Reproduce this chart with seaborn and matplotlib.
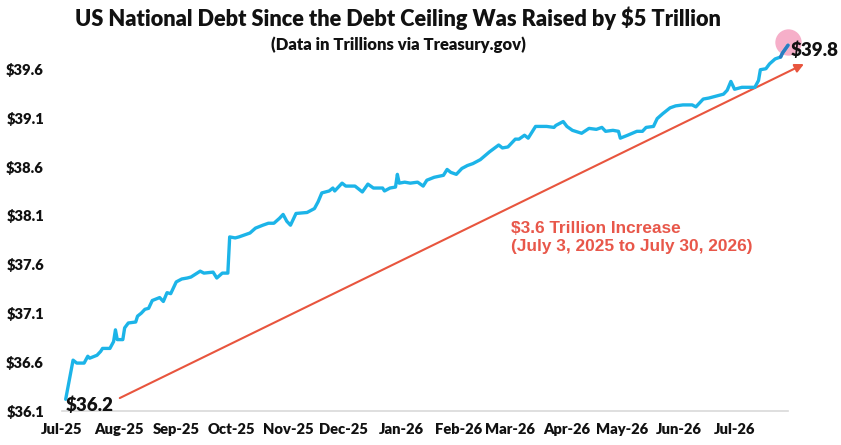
import pandas as pd
import matplotlib
matplotlib.use("Agg")
import matplotlib.pyplot as plt
import matplotlib.dates as mdates
from matplotlib.ticker import FuncFormatter
import seaborn as sns

# debt readings (trillions)
dates = ['2025-07-03', '2025-07-07', '2025-07-09', '2025-07-13', '2025-07-15', '2025-07-16',
         '2025-07-20', '2025-07-22', '2025-07-23', '2025-07-27', '2025-07-29', '2025-07-30',
         '2025-07-31', '2025-08-03', '2025-08-04', '2025-08-06', '2025-08-10', '2025-08-11',
         '2025-08-13', '2025-08-15', '2025-08-17', '2025-08-19', '2025-08-23', '2025-08-25',
         '2025-08-27', '2025-08-29', '2025-09-01', '2025-09-04', '2025-09-07', '2025-09-09',
         '2025-09-14', '2025-09-16', '2025-09-21', '2025-09-23', '2025-09-26', '2025-09-29',
         '2025-09-30', '2025-10-03', '2025-10-05', '2025-10-08', '2025-10-11', '2025-10-14',
         '2025-10-18', '2025-10-21', '2025-10-24', '2025-10-27', '2025-10-29', '2025-10-31',
         '2025-11-02', '2025-11-05', '2025-11-11', '2025-11-15', '2025-11-17', '2025-11-19',
         '2025-11-23', '2025-11-25', '2025-11-26', '2025-11-30', '2025-12-02', '2025-12-07',
         '2025-12-11', '2025-12-14', '2025-12-17', '2025-12-22', '2025-12-23', '2025-12-26',
         '2025-12-29', '2025-12-30', '2025-12-31', '2026-01-03', '2026-01-06', '2026-01-10',
         '2026-01-13', '2026-01-15', '2026-01-19', '2026-01-24', '2026-01-26', '2026-01-28',
         '2026-01-31', '2026-02-03', '2026-02-06', '2026-02-09', '2026-02-13', '2026-02-18',
         '2026-02-23', '2026-02-25', '2026-02-28', '2026-03-04', '2026-03-06', '2026-03-09',
         '2026-03-11', '2026-03-15', '2026-03-21', '2026-03-25', '2026-03-26', '2026-03-30',
         '2026-04-01', '2026-04-04', '2026-04-09', '2026-04-13', '2026-04-17', '2026-04-20',
         '2026-04-22', '2026-04-26', '2026-04-29', '2026-04-30', '2026-05-04', '2026-05-09',
         '2026-05-12', '2026-05-14', '2026-05-18', '2026-05-20', '2026-05-23', '2026-05-27',
         '2026-05-30', '2026-06-03', '2026-06-08', '2026-06-10', '2026-06-14', '2026-06-17',
         '2026-06-21', '2026-06-25', '2026-06-27', '2026-06-29', '2026-07-01', '2026-07-05',
         '2026-07-08', '2026-07-12', '2026-07-14', '2026-07-15', '2026-07-18', '2026-07-20',
         '2026-07-23', '2026-07-26', '2026-07-27', '2026-07-30']
debt = [36.22, 36.62, 36.59, 36.59, 36.66, 36.64,
        36.67, 36.71, 36.74, 36.74, 36.81, 36.93,
        36.83, 36.83, 36.95, 37.00, 37.01, 37.07,
        37.10, 37.14, 37.15, 37.23, 37.26, 37.22,
        37.31, 37.30, 37.42, 37.45, 37.46, 37.47,
        37.53, 37.51, 37.52, 37.46, 37.51, 37.51,
        37.88, 37.87, 37.88, 37.90, 37.92, 37.97,
        38.00, 38.02, 38.02, 38.07, 38.11, 38.04,
        38.00, 38.12, 38.13, 38.17, 38.24, 38.33,
        38.35, 38.38, 38.35, 38.43, 38.40, 38.40,
        38.34, 38.42, 38.38, 38.38, 38.35, 38.38,
        38.39, 38.52, 38.43, 38.44, 38.43, 38.44,
        38.40, 38.46, 38.49, 38.51, 38.57, 38.54,
        38.52, 38.58, 38.61, 38.63, 38.67, 38.75,
        38.82, 38.79, 38.80, 38.88, 38.88, 38.92,
        38.89, 39.01, 39.01, 39.00, 39.02, 39.06,
        39.01, 38.97, 38.94, 38.99, 38.98, 39.00,
        38.96, 38.97, 38.96, 38.89, 38.92, 38.96,
        38.96, 39.00, 39.01, 39.09, 39.14, 39.20,
        39.22, 39.23, 39.23, 39.21, 39.29, 39.30,
        39.32, 39.34, 39.38, 39.47, 39.39, 39.41,
        39.41, 39.41, 39.48, 39.59, 39.60, 39.65,
        39.70, 39.72, 39.76, 39.84]

yticks = [36.1, 36.6, 37.1, 37.6, 38.1, 38.6, 39.1, 39.6]

title = 'US National Debt Since the Debt Ceiling Was Raised by $5 Trillion'
subtitle = '(Data in Trillions via Treasury.gov)'
note = '$3.6 Trillion Increase\n(July 3, 2025 to July 30, 2026)'

df = pd.DataFrame({'date': pd.to_datetime(dates), 'debt': debt})
last = df.tail(3)

sns.set_theme(style='white')
plt.rcParams['font.family'] = ['Lato', 'DejaVu Sans']

W, H = 841, 445
fig = plt.figure(figsize=(W / 100, H / 100), dpi=100)
ax = fig.add_axes([62 / W, 1 - 411 / H, (788 - 62) / W, (411 - 34.5) / H])

# pink highlight behind the latest reading
ax.scatter(df['date'].iloc[-1], df['debt'].iloc[-1] + 0.03, s=360, color='#f5a6c4',
           alpha=0.9, zorder=1, clip_on=False, linewidths=0)

sns.lineplot(data=df, x='date', y='debt', ax=ax, color='#1cb4e8', linewidth=2.4, zorder=2)
sns.lineplot(data=last, x='date', y='debt', ax=ax, color='#2b7cc0', linewidth=2.4, zorder=3)
for ln in ax.lines:
    ln.set_clip_on(False)

ax.set_xlim(pd.Timestamp('2025-07-01'), pd.Timestamp('2026-07-30'))
ax.set_ylim(36.1, 39.95)
ax.set_yticks(yticks)
ax.yaxis.set_major_formatter(FuncFormatter(lambda v, p: '$%.1f' % v))
ax.xaxis.set_major_locator(mdates.MonthLocator())
ax.xaxis.set_major_formatter(mdates.DateFormatter('%b-%y'))
ax.set_xlabel('')
ax.set_ylabel('')
ax.tick_params(axis='both', length=0, labelsize=10.6, colors='#111111')
ax.tick_params(axis='y', pad=13)
ax.tick_params(axis='x', pad=9)
for lab in ax.get_xticklabels() + ax.get_yticklabels():
    lab.set_fontweight('heavy')

sns.despine(ax=ax, left=True, top=True, right=True)
ax.spines['bottom'].set_color('#d9d9d9')
ax.spines['bottom'].set_linewidth(1.2)

# red trend arrow
ax.annotate('', xy=(pd.Timestamp('2026-08-09'), 39.66), xytext=(pd.Timestamp('2025-07-31'), 36.22),
            arrowprops=dict(arrowstyle='-|>', color='#e8553e', lw=1.5, mutation_scale=13),
            annotation_clip=False, zorder=1)

ax.annotate('$%.1f' % debt[0], (df['date'].iloc[0], debt[0]), xytext=(0, -4),
            textcoords='offset points', ha='left', va='center', fontsize=13.5,
            fontweight='heavy', color='#111111')
ax.annotate('$%.1f' % debt[-1], (df['date'].iloc[-1], debt[-1]), xytext=(2, -3.5),
            textcoords='offset points', ha='left', va='center', fontsize=13.5,
            fontweight='heavy', color='#111111', annotation_clip=False)

fig.text(511 / W, 1 - 237.5 / H, note, ha='left', va='center', fontsize=12.4,
         fontweight='bold', color='#e8574a', family=['Liberation Sans', 'DejaVu Sans'],
         linespacing=1.2)

fig.text(398 / W, 1 - 18 / H, title, ha='center', va='center', fontsize=15.7,
         fontweight='heavy', color='#111111')
fig.text(398 / W, 1 - 45 / H, subtitle, ha='center', va='center', fontsize=12,
         fontweight='heavy', color='#111111')

fig.savefig('out.png', dpi=100, facecolor='white')
